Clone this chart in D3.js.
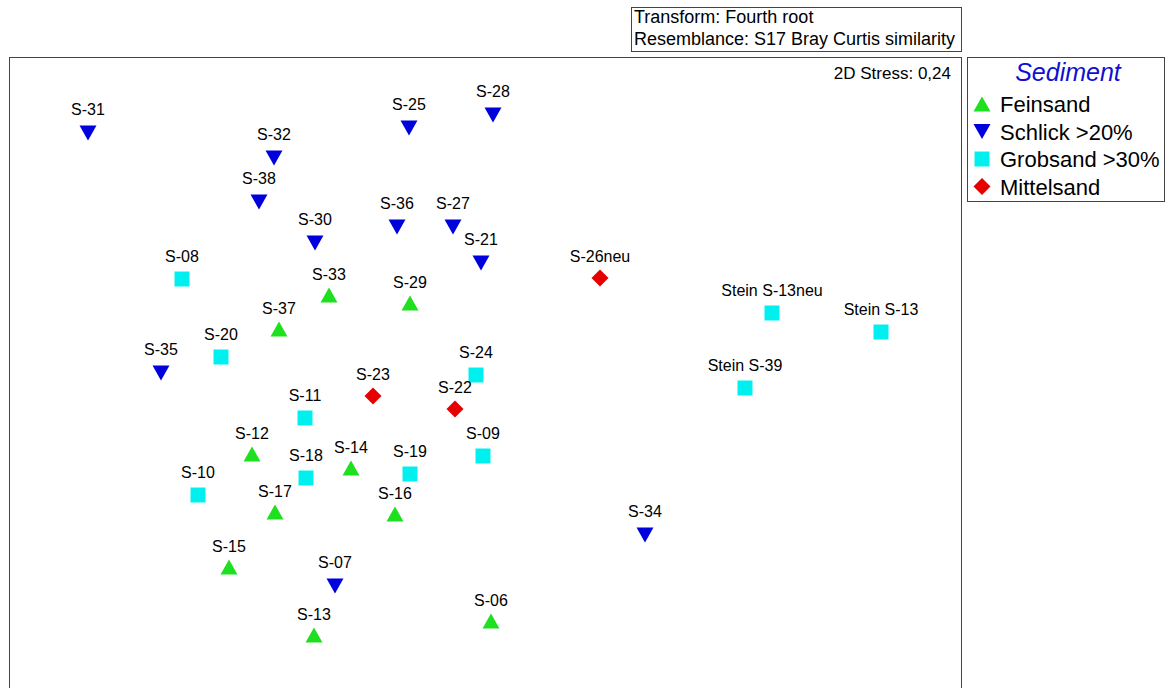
<!DOCTYPE html>
<html>
<head>
<meta charset="utf-8">
<script src="https://cdn.jsdelivr.net/npm/d3@7"></script>
<style>
  html, body { margin: 0; padding: 0; background: #fff; }
  svg { display: block; }
  text { font-family: Arial, "Liberation Sans", sans-serif; fill: #000; }
</style>
</head>
<body>
<svg id="chart" width="1170" height="688"></svg>
<script>
// nMDS ordination of sampling sites (fourth-root transform, Bray-Curtis similarity)
const sites = [
  "S-31", "S-32", "S-38", "S-25", "S-28", "S-30", "S-36", "S-27", "S-21", "S-35", "S-34", "S-07",
  "S-33", "S-29", "S-37", "S-12", "S-14", "S-17", "S-16", "S-15", "S-13", "S-06",
  "S-08", "S-20", "S-24", "S-11", "S-09", "S-19", "S-18", "S-10", "Stein S-13neu", "Stein S-13", "Stein S-39",
  "S-26neu", "S-23", "S-22"
];
const mds1 = [
  -1.985, -1.055, -1.13, -0.38, 0.04, -0.85, -0.44, -0.16, -0.02, -1.62, 0.80, -0.75,
  -0.78, -0.375, -1.03, -1.165, -0.67, -1.05, -0.45, -1.28, -0.855, 0.03,
  -1.515, -1.32, -0.045, -0.90, -0.01, -0.375, -0.895, -1.435, 1.435, 1.98, 1.30,
  0.575, -0.56, -0.15
];
const mds2 = [
  1.085, 0.96, 0.74, 1.11, 1.175, 0.535, 0.615, 0.615, 0.435, -0.115, -0.925, -1.18,
  0.275, 0.235, 0.105, -0.52, -0.59, -0.81, -0.82, -1.085, -1.425, -1.355,
  0.355, -0.035, -0.125, -0.34, -0.53, -0.62, -0.64, -0.725, 0.185, 0.09, -0.19,
  0.36, -0.23, -0.295
];
const sediment = [
  "Schlick >20%", "Schlick >20%", "Schlick >20%", "Schlick >20%", "Schlick >20%", "Schlick >20%",
  "Schlick >20%", "Schlick >20%", "Schlick >20%", "Schlick >20%", "Schlick >20%", "Schlick >20%",
  "Feinsand", "Feinsand", "Feinsand", "Feinsand", "Feinsand", "Feinsand", "Feinsand", "Feinsand", "Feinsand", "Feinsand",
  "Grobsand >30%", "Grobsand >30%", "Grobsand >30%", "Grobsand >30%", "Grobsand >30%", "Grobsand >30%",
  "Grobsand >30%", "Grobsand >30%", "Grobsand >30%", "Grobsand >30%", "Grobsand >30%",
  "Mittelsand", "Mittelsand", "Mittelsand"
];
const groups = ["Feinsand", "Schlick >20%", "Grobsand >30%", "Mittelsand"];
const groupColors = ["#1fe01f", "#0000dc", "#00f0f0", "#e60000"];
const groupShapes = ["up", "down", "square", "diamond"];
const stressLabel = "2D Stress: 0,24";
const infoLines = ["Transform: Fourth root", "Resemblance: S17 Bray Curtis similarity"];
const legendTitle = "Sediment";

const svg = d3.select("#chart");

const x = d3.scaleLinear().domain([-2, 2]).range([85, 885]);
const y = d3.scaleLinear().domain([-1.5, 1.5]).range([650, 50]);
const color = d3.scaleOrdinal().domain(groups).range(groupColors);
const shape = d3.scaleOrdinal().domain(groups).range(groupShapes);

// marker outlines centred on their bounding box
function markerPath(kind) {
  const p = d3.path();
  if (kind === "up") {
    p.moveTo(0, -7.5); p.lineTo(8.5, 7.5); p.lineTo(-8.5, 7.5); p.closePath();
  } else if (kind === "down") {
    p.moveTo(-8.5, -7.5); p.lineTo(8.5, -7.5); p.lineTo(0, 7.5); p.closePath();
  } else if (kind === "square") {
    p.rect(-7.5, -7.5, 15, 15);
  } else {
    p.moveTo(0, -8.5); p.lineTo(8.5, 0); p.lineTo(0, 8.5); p.lineTo(-8.5, 0); p.closePath();
  }
  return p.toString();
}
const labelGap = { up: 15, down: 18, square: 17, diamond: 16.5 };

// info box above the plot
const info = svg.append("g");
info.append("rect")
  .attr("x", 631.5).attr("y", 7.5).attr("width", 330).attr("height", 44)
  .attr("fill", "#fff").attr("stroke", "#444").attr("stroke-width", 1);
info.selectAll("text").data(infoLines).join("text")
  .attr("x", 634).attr("y", (d, i) => 23 + i * 22)
  .style("font-size", "18px")
  .text(d => d);

// plot frame (open at the bottom edge of the page)
svg.append("rect")
  .attr("x", 9.5).attr("y", 57.5).attr("width", 952).attr("height", 700)
  .attr("fill", "none").attr("stroke", "#444").attr("stroke-width", 1);

svg.append("text")
  .attr("x", 951).attr("y", 79)
  .attr("text-anchor", "end")
  .style("font-size", "17px")
  .text(stressLabel);

// sample points with their labels
const pts = sites.map((s, i) => ({ name: s, m1: mds1[i], m2: mds2[i], grp: sediment[i] }));
const gp = svg.append("g");
gp.selectAll("path").data(pts).join("path")
  .attr("transform", d => `translate(${x(d.m1)},${y(d.m2)})`)
  .attr("d", d => markerPath(shape(d.grp)))
  .attr("fill", d => color(d.grp));
gp.selectAll("text").data(pts).join("text")
  .attr("x", d => x(d.m1))
  .attr("y", d => y(d.m2) - labelGap[shape(d.grp)])
  .attr("text-anchor", "middle")
  .style("font-size", "16px")
  .text(d => d.name);

// legend
const lg = svg.append("g");
lg.append("rect")
  .attr("x", 967.5).attr("y", 57.5).attr("width", 197).attr("height", 144)
  .attr("fill", "#fff").attr("stroke", "#444").attr("stroke-width", 1);
lg.append("text")
  .attr("x", 1068).attr("y", 81)
  .attr("text-anchor", "middle")
  .style("font-size", "25px").style("font-style", "italic").style("fill", "#1010d0")
  .text(legendTitle);
const rows = lg.selectAll("g.row").data(groups).join("g")
  .attr("class", "row")
  .attr("transform", (d, i) => `translate(982,${104 + i * 27.5})`);
rows.append("path")
  .attr("d", d => markerPath(shape(d)))
  .attr("fill", d => color(d));
rows.append("text")
  .attr("x", 18).attr("y", 8)
  .style("font-size", "22px")
  .text(d => d);
</script>
</body>
</html>
